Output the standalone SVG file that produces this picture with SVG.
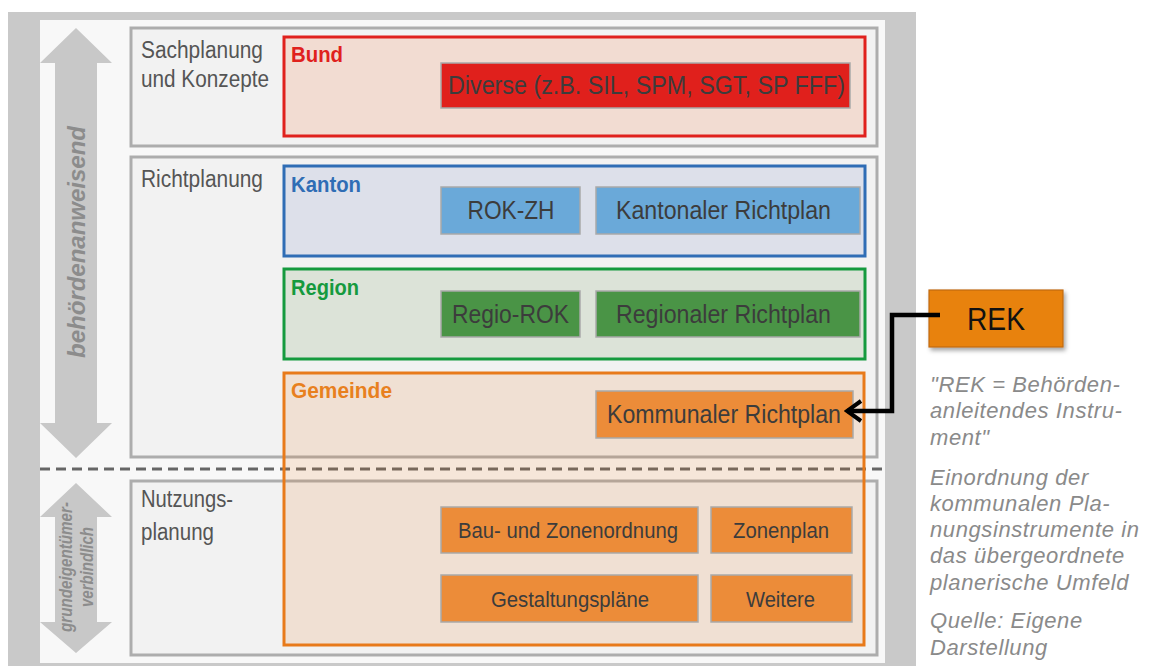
<svg xmlns="http://www.w3.org/2000/svg" width="1149" height="666" viewBox="0 0 1149 666">
<style>
text{font-family:"Liberation Sans",Arial,sans-serif}
.lvl{fill:#f2f2f2;stroke:#adadad;stroke-width:3}
.lbl{font-size:23px;fill:#555}
.itm{stroke:#a9a9a9;stroke-width:1.5}
.it{font-size:25px;fill:#3c3c3c;text-anchor:middle}
.its{font-size:22px;fill:#3c3c3c;text-anchor:middle}
.hd{font-size:22px;font-weight:bold}
.side{font-size:22px;font-style:italic;fill:#8a8a8a;letter-spacing:0.6px}
.arr{fill:#c8c8c8}
.vt{font-weight:bold;font-style:italic;fill:#8c8c8c;text-anchor:middle}
.org{fill:#ec8c39}
</style>
<defs>
<marker id="ah" viewBox="0 0 20 24" refX="17" refY="12" markerWidth="20" markerHeight="24" markerUnits="userSpaceOnUse" orient="auto">
<polyline points="3,2 17,12 3,22" fill="none" stroke="#000" stroke-width="4" stroke-linejoin="miter"/>
</marker>
<filter id="sh" x="-20%" y="-20%" width="150%" height="160%">
<feDropShadow dx="2" dy="3" stdDeviation="2" flood-color="#000" flood-opacity="0.35"/>
</filter>
</defs>
<rect width="1149" height="666" fill="#fff"/>
<rect x="8" y="12" width="908" height="654" fill="#c9c9c9"/>
<rect x="40" y="20" width="845" height="643" fill="#f8f8f8"/>

<g id="axis-behoerden">
<polygon class="arr" points="76,28 112,63 97,63 97,423 112,423 76,458 40,423 55,423 55,63 40,63"/>
<text class="vt" font-size="24" transform="translate(85,242) rotate(-90)">behördenanweisend</text>
</g>
<g id="axis-grund">
<polygon class="arr" points="76,483 112,517 97,517 97,622 112,622 76,653 40,622 55,622 55,517 40,517"/>
<text class="vt" font-size="18" fill="#7a7a7a" textLength="130" lengthAdjust="spacingAndGlyphs" transform="translate(72,567) rotate(-90)">grundeigentümer-</text>
<text class="vt" font-size="18" fill="#7a7a7a" textLength="80" lengthAdjust="spacingAndGlyphs" transform="translate(93,567) rotate(-90)">verbindlich</text>
</g>

<g id="level-sachplanung">
<rect class="lvl" x="131" y="28" width="746" height="118"/>
<text class="lbl" x="141" y="58" textLength="122" lengthAdjust="spacingAndGlyphs">Sachplanung</text>
<text class="lbl" x="141" y="87" textLength="128" lengthAdjust="spacingAndGlyphs">und Konzepte</text>
</g>
<g id="level-richtplanung">
<rect class="lvl" x="131" y="157" width="746" height="300"/>
<text class="lbl" x="141" y="187" textLength="122" lengthAdjust="spacingAndGlyphs">Richtplanung</text>
</g>
<g id="level-nutzungsplanung">
<rect class="lvl" x="131" y="481" width="746" height="174"/>
<text class="lbl" x="141" y="507" textLength="92" lengthAdjust="spacingAndGlyphs">Nutzungs-</text>
<text class="lbl" x="141" y="540" textLength="73" lengthAdjust="spacingAndGlyphs">planung</text>
</g>

<line x1="40" y1="469" x2="885" y2="469" stroke="#666" stroke-width="3" stroke-dasharray="10,6"/>

<g id="bund">
<rect x="284" y="37" width="581" height="99" fill="#f2dcd2" stroke="#e0211d" stroke-width="3"/>
<text class="hd" x="291" y="62" fill="#e0211d" textLength="52" lengthAdjust="spacingAndGlyphs">Bund</text>
<rect class="itm" x="441" y="63" width="409" height="45" fill="#e0201c"/>
<text class="it" x="646.5" y="94" textLength="397" lengthAdjust="spacingAndGlyphs">Diverse (z.B. SIL, SPM, SGT, SP FFF)</text>
</g>

<g id="kanton">
<rect x="284" y="166" width="581" height="90" fill="#dde0ea" stroke="#2f6db5" stroke-width="3"/>
<text class="hd" x="291" y="192" fill="#2f6db5" textLength="70" lengthAdjust="spacingAndGlyphs">Kanton</text>
<rect class="itm" x="441" y="187" width="139" height="47" fill="#6aa9d9"/>
<text class="it" x="511" y="219" textLength="87" lengthAdjust="spacingAndGlyphs">ROK-ZH</text>
<rect class="itm" x="596" y="187" width="264" height="47" fill="#6aa9d9"/>
<text class="it" x="723.5" y="219" textLength="215" lengthAdjust="spacingAndGlyphs">Kantonaler Richtplan</text>
</g>

<g id="region">
<rect x="284" y="269" width="581" height="90" fill="#dce3d8" stroke="#159a3e" stroke-width="3"/>
<text class="hd" x="291" y="295" fill="#159a3e" textLength="68" lengthAdjust="spacingAndGlyphs">Region</text>
<rect class="itm" x="441" y="291" width="139" height="46" fill="#4a9446"/>
<text class="it" x="510.5" y="323" textLength="117" lengthAdjust="spacingAndGlyphs">Regio-ROK</text>
<rect class="itm" x="596" y="291" width="264" height="46" fill="#4a9446"/>
<text class="it" x="723.5" y="323" textLength="215" lengthAdjust="spacingAndGlyphs">Regionaler Richtplan</text>
</g>

<g id="gemeinde">
<rect x="284" y="373" width="580" height="272" fill="#e87a1a" fill-opacity="0.14" stroke="#e87a1a" stroke-width="3"/>
<text class="hd" x="291" y="398" fill="#e8801e" textLength="101" lengthAdjust="spacingAndGlyphs">Gemeinde</text>
<rect class="itm org" x="596" y="391" width="257" height="47"/>
<text class="it" x="724" y="423" textLength="234" lengthAdjust="spacingAndGlyphs">Kommunaler Richtplan</text>
<rect class="itm org" x="441" y="507" width="257" height="46"/>
<text class="its" x="568" y="538" textLength="220" lengthAdjust="spacingAndGlyphs">Bau- und Zonenordnung</text>
<rect class="itm org" x="711" y="507" width="141" height="46"/>
<text class="its" x="781" y="538" textLength="96" lengthAdjust="spacingAndGlyphs">Zonenplan</text>
<rect class="itm org" x="441" y="575" width="257" height="47"/>
<text class="its" x="570" y="606.5" textLength="158" lengthAdjust="spacingAndGlyphs">Gestaltungspläne</text>
<rect class="itm org" x="711" y="575" width="141" height="47"/>
<text class="its" x="780.5" y="606.5" textLength="69" lengthAdjust="spacingAndGlyphs">Weitere</text>
</g>

<g id="rek">
<rect x="929" y="290" width="134" height="57" fill="#e8820a" stroke="#c06a14" stroke-width="1.2" filter="url(#sh)"/>
<text x="996" y="330" font-size="31" fill="#111" text-anchor="middle" textLength="58" lengthAdjust="spacingAndGlyphs">REK</text>
</g>

<g id="connectors">
<polyline points="940,315 892,315 892,411 847,411" fill="none" stroke="#000" stroke-width="4.5" stroke-linejoin="miter" marker-end="url(#ah)"/>
</g>

<g id="caption">
<text class="side" x="930" y="392">"REK = Behörden-</text>
<text class="side" x="930" y="418">anleitendes Instru-</text>
<text class="side" x="930" y="445">ment"</text>
<text class="side" x="930" y="485">Einordnung der</text>
<text class="side" x="930" y="511">kommunalen Pla-</text>
<text class="side" x="930" y="537">nungsinstrumente in</text>
<text class="side" x="930" y="563">das übergeordnete</text>
<text class="side" x="930" y="590">planerische Umfeld</text>
<text class="side" x="930" y="628">Quelle: Eigene</text>
<text class="side" x="930" y="655">Darstellung</text>
</g>
</svg>
